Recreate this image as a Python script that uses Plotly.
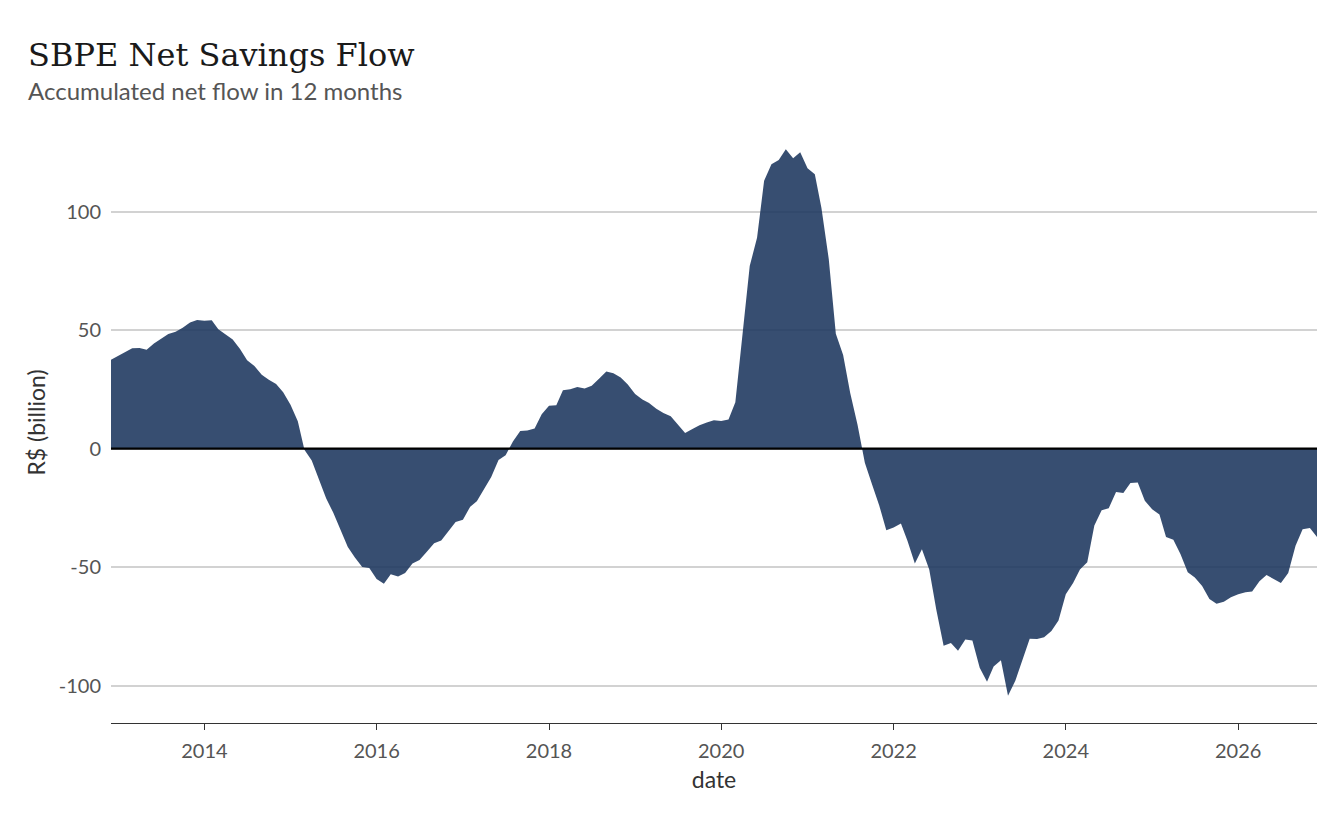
import pandas as pd
import plotly.graph_objects as go

# Monthly 12-month accumulated net flow (R$ billion), Dec-2012 .. Dec-2026
start_month = "2012-12-01"
flow_2012_2015 = [37.5, 39.2, 40.8, 42.3, 42.4, 41.7, 44.3, 46.3, 48.3, 49.3, 51.0, 53.2,
                  54.2, 53.9, 54.1, 50.4, 48.2, 46.0, 42.0, 37.3, 34.8, 31.2, 29.0, 27.2,
                  23.8, 18.5, 11.5, -0.5, -5.0]
flow_2015_2017 = [-12.5, -21.0, -27.0, -34.5, -41.5, -46.0, -50.0, -50.4, -55.0, -57.0, -53.0, -54.0,
                  -52.5, -48.5, -47.0, -43.5, -40.0, -38.8, -35.0, -31.0, -30.0, -24.5, -22.2, -17.0,
                  -12.0, -4.8, -2.8]
flow_2017_2020 = [3.0, 7.4, 7.6, 8.5, 14.5, 18.1, 18.3, 24.6, 25.0, 26.0, 25.3, 26.5,
                  29.5, 32.5, 31.8, 30.0, 27.0, 23.0, 20.7, 19.2, 16.8, 15.0, 13.6, 10.0,
                  6.6, 8.3, 9.8, 11.0, 12.0, 11.6, 12.3]
flow_2020_2021 = [19.5, 48.0, 77.0, 89.0, 113.0, 120.0, 121.8, 126.3, 122.5, 125.0, 118.3, 115.8,
                  101.5, 80.0, 48.5, 39.5, 23.5, 10.0, -6.0]
flow_2021_2024 = [-15.0, -24.0, -34.5, -33.3, -31.6, -39.0, -48.5, -42.5, -51.0, -68.0, -83.2, -82.0,
                  -85.3, -80.6, -81.0, -92.5, -98.4, -92.0, -89.3, -104.3, -98.0, -89.0, -80.2, -80.4,
                  -79.6, -77.0, -72.5, -61.5, -56.7, -51.0]
flow_2024_2026 = [-48.0, -32.5, -26.0, -25.2, -18.3, -18.7, -14.5, -14.3, -22.0, -25.6, -27.8, -37.3,
                  -38.5, -44.5, -52.2, -54.4, -58.0, -63.5, -65.5, -64.6, -62.7, -61.5, -60.6, -60.3,
                  -56.0, -53.4, -55.0, -56.7, -52.5, -41.0, -34.0, -33.5, -37.3]

values = (flow_2012_2015 + flow_2015_2017 + flow_2017_2020 +
          flow_2020_2021 + flow_2021_2024 + flow_2024_2026)
dates = pd.date_range(start_month, periods=len(values), freq="MS")

y_tick_values = [-100, -50, 0, 50, 100]
y_tick_labels = ["-100", "-50", "0", "50", "100"]

title_text = "SBPE Net Savings Flow"
subtitle_text = "Accumulated net flow in 12 months"
x_title = "date"
y_title = "R$ (billion)"

fig = go.Figure()
fig.add_trace(go.Scatter(
    x=dates, y=values, mode="lines", fill="tozeroy",
    line=dict(width=0, color="rgba(27,54,93,0.88)"),
    fillcolor="rgba(27,54,93,0.88)", hoverinfo="x+y", showlegend=False,
))

fig.add_shape(type="line", xref="paper", x0=0, x1=1, yref="y", y0=0, y1=0,
              line=dict(color="black", width=2.2), layer="above")

fig.update_layout(
    width=1344, height=830,
    margin=dict(l=111, r=27, t=122, b=107),
    paper_bgcolor="white", plot_bgcolor="white",
    font=dict(family="Lato", color="#4d4d4d"),
    annotations=[
        dict(text=title_text, xref="paper", yref="paper", x=-0.0705, y=1.111,
             xanchor="left", yanchor="middle", showarrow=False,
             font=dict(family="DejaVu Serif", size=32, color="#1a1a1a")),
        dict(text=subtitle_text, xref="paper", yref="paper", x=-0.0705, y=1.0516,
             xanchor="left", yanchor="middle", showarrow=False,
             font=dict(family="Lato", size=24, color="#555555")),
    ],
)

fig.update_xaxes(
    range=[dates[0], dates[-1]], type="date",
    tick0="2014-01-01", dtick="M24", tickformat="%Y",
    showgrid=False, zeroline=False,
    showline=True, linecolor="#333333", linewidth=1.2,
    ticks="outside", ticklen=6, tickcolor="#333333", tickwidth=1.2,
    ticklabelstandoff=4,
    tickfont=dict(family="Lato", size=20, color="#555555"),
    title=dict(text=x_title, font=dict(family="Lato", size=23, color="#333333"), standoff=10),
)
fig.update_yaxes(
    range=[-115.8, 137.8], tickvals=y_tick_values, ticktext=y_tick_labels,
    showgrid=True, gridcolor="#d2d2d2", gridwidth=1.5,
    zeroline=False, showline=False, ticks="",
    ticklabelstandoff=9,
    tickfont=dict(family="Lato", size=20, color="#555555"),
    title=dict(text=y_title, font=dict(family="Lato", size=23, color="#333333"), standoff=6),
)

fig.write_html("out.html", config={"displayModeBar": False},
               post_script="document.body.style.margin='0';")
